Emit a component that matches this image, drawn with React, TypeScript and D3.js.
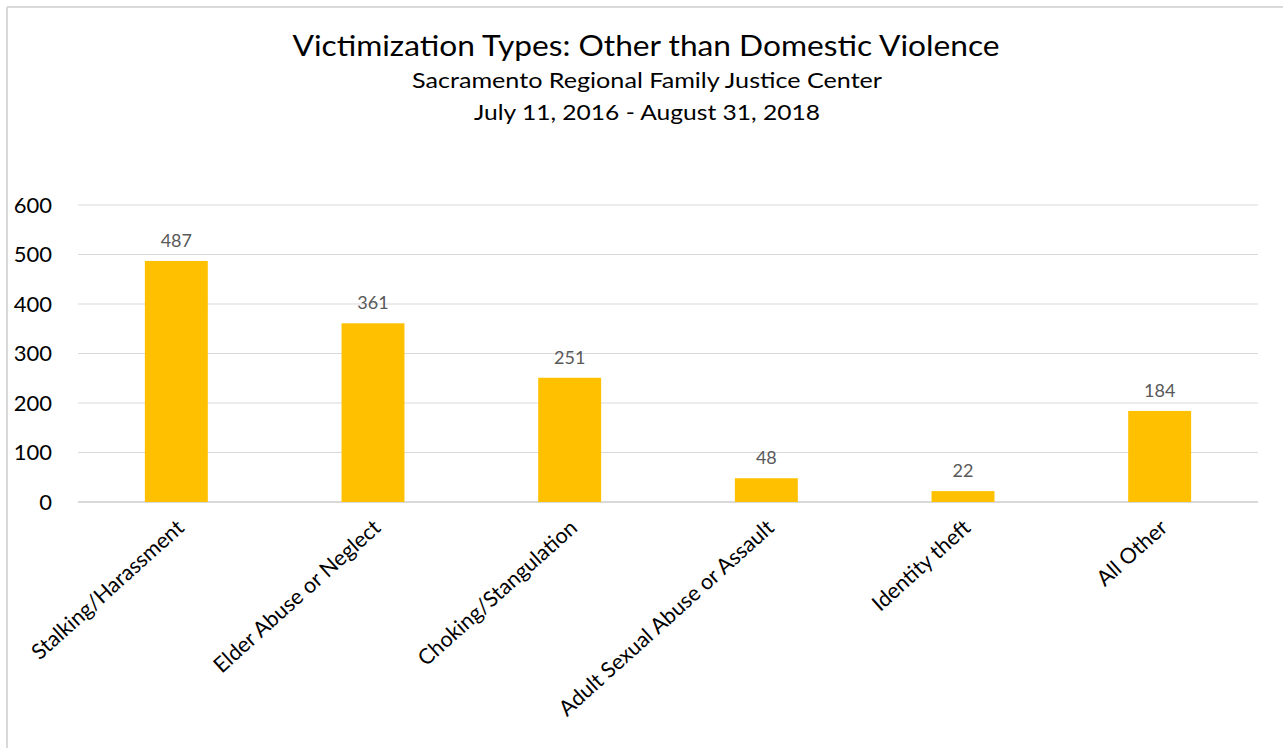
import React from "react"
import * as d3 from "d3"

const categories: string[] = [
	"Stalking/Harassment",
	"Elder Abuse or Neglect",
	"Choking/Stangulation",
	"Adult Sexual Abuse or Assault",
	"Identity theft",
	"All Other",
]
const counts: number[] = [487, 361, 251, 48, 22, 184]
const yTicks: number[] = [0, 100, 200, 300, 400, 500, 600]

const title = "Victimization Types: Other than Domestic Violence"
const subtitle = "Sacramento Regional Family Justice Center"
const dateRange = "July 11, 2016 - August 31, 2018"

const App: React.FC = () => {
	const width = 1283
	const height = 748
	// plot area
	const margin = { top: 205, right: 25, bottom: 246, left: 78 }
	const innerWidth = width - margin.left - margin.right
	const innerHeight = height - margin.top - margin.bottom

	const font = "Lato, 'Open Sans', sans-serif"
	const barColor = "#FFC000"
	const gridColor = "#d9d9d9"

	const x = d3
		.scaleBand<string>()
		.domain(categories)
		.range([0, innerWidth])
		.paddingInner(0.68)
		.paddingOuter(0.34)
	const y = d3.scaleLinear().domain([0, 600]).range([innerHeight, 0])

	return (
		<div style={{ position: "absolute", left: 0, top: 0 }}>
			<svg width={width} height={height} style={{ display: "block", background: "#fff" }}>
				{/* chart frame, only left and top edges are in view */}
				<line x1={7} x2={width} y1={7} y2={7} stroke={gridColor} strokeWidth={2} />
				<line x1={7} x2={7} y1={7} y2={height} stroke={gridColor} strokeWidth={2} />

				{/* the reference text is a little stretched sideways, so fit the widths */}
				<g fontFamily={font} textAnchor="middle" fill="#000">
					<text x={646} y={56} fontSize={29} textLength={707} lengthAdjust="spacingAndGlyphs">
						{title}
					</text>
					<text x={647} y={88} fontSize={21} textLength={470} lengthAdjust="spacingAndGlyphs">
						{subtitle}
					</text>
					<text x={647} y={120} fontSize={22} textLength={346} lengthAdjust="spacingAndGlyphs">
						{dateRange}
					</text>
				</g>

				<g transform={`translate(${margin.left},${margin.top})`}>
					{yTicks.map((t) => (
						<g key={t}>
							<line
								x1={0}
								x2={innerWidth}
								y1={y(t)}
								y2={y(t)}
								stroke={gridColor}
								strokeWidth={t === 0 ? 2 : 1}
							/>
							<text
								x={-26}
								y={y(t)}
								dy="0.35em"
								textAnchor="end"
								fontFamily={font}
								fontSize={22}
								fill="#000">
								{t}
							</text>
						</g>
					))}

					{categories.map((c, i) => (
						<g key={c}>
							<rect
								x={x(c)}
								y={y(counts[i])}
								width={x.bandwidth()}
								height={innerHeight - y(counts[i])}
								fill={barColor}
							/>
							<text
								x={(x(c) ?? 0) + x.bandwidth() / 2}
								y={y(counts[i]) - 14}
								textAnchor="middle"
								fontFamily={font}
								fontSize={18}
								fill="#595959">
								{counts[i]}
							</text>
							<text
								transform={`translate(${(x(c) ?? 0) + x.bandwidth() / 2 + 4},${innerHeight + 22}) rotate(-42)`}
								textAnchor="end"
								dy="0.35em"
								fontFamily={font}
								fontSize={21.5}
								fill="#000">
								{c}
							</text>
						</g>
					))}
				</g>
			</svg>
		</div>
	)
}

export default App
